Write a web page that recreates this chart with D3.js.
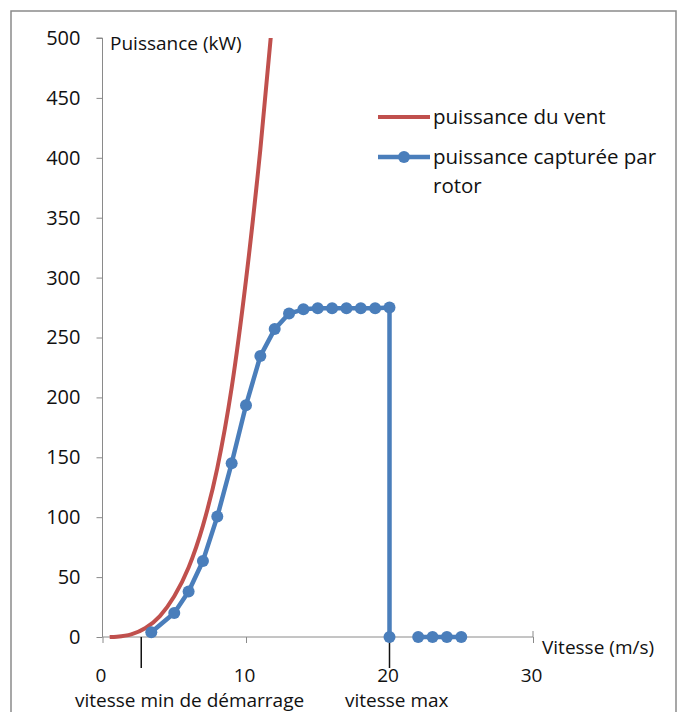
<!DOCTYPE html>
<html><head><meta charset="utf-8">
<script src="https://cdn.jsdelivr.net/npm/d3@7/dist/d3.min.js"></script>
<style>body{margin:0;background:#fff}svg{display:block}text{font-family:"Open Sans",sans-serif;fill:#111}</style>
</head><body>
<script>
// Data
const windSpeed = [0.5, 1, 2, 3, 4, 5, 6, 7, 8, 9, 10, 11, 12];
const windPower = [0, 0.3, 2.2, 7.5, 17.5, 34, 58, 93, 141, 208, 298, 407, 536];
const rotorSpeed = [3.4, 5, 6, 7, 8, 9, 10, 11, 12, 13, 14, 15, 16, 17, 18, 19, 20, 20, null, 22, 23, 24, 25];
const rotorPower = [4, 20, 38, 63.5, 100.5, 145, 193.5, 234.5, 257, 270, 273.5, 274.5, 274.5, 274.5, 274.5, 274.5, 275, 0, null, 0, 0, 0, 0];
const yTicks = [0, 50, 100, 150, 200, 250, 300, 350, 400, 450, 500];
const xTicks = [0, 10, 20, 30];
const markers = [{v: 2.7, label: "vitesse min de démarrage"}, {v: 20, label: "vitesse max"}];
const seriesNames = ["puissance du vent", "puissance capturée par", "rotor"];
const yTitle = "Puissance (kW)";
const xTitle = "Vitesse (m/s)";

const W = 678, H = 712;
const svg = d3.select("body").append("svg").attr("width", W).attr("height", H);
const x = d3.scaleLinear().domain([0, 30]).range([102.5, 533]);
const y = d3.scaleLinear().domain([0, 500]).range([637, 38]);
const red = "#C0504D", blue = "#4A7EBB";

svg.append("rect").attr("x", 11).attr("y", 11).attr("width", 665).attr("height", 740)
  .attr("fill", "none").attr("stroke", "#8a8a8a").attr("stroke-width", 1.5);

svg.append("clipPath").attr("id", "clip").append("rect")
  .attr("x", 0).attr("y", y(500)).attr("width", W).attr("height", H);

// y axis
const yAxis = d3.axisLeft(y).tickValues(yTicks).tickSize(6).tickPadding(16).tickFormat(d3.format("d"));
const gy = svg.append("g").attr("transform", `translate(${x(0)},0)`).call(yAxis);
gy.select(".domain").attr("stroke", "#8a8a8a").attr("d", `M-6,${y(500)}H0V${y(0)}`);
gy.selectAll(".tick line").attr("stroke", "#8a8a8a");
gy.selectAll(".tick text").attr("font-size", 20).attr("font-family", "Open Sans").attr("fill", "#111");

// x axis
const xAxis = d3.axisBottom(x).tickValues(xTicks).tickSize(6).tickPadding(26).tickFormat(d3.format("d"));
const gx = svg.append("g").attr("transform", `translate(0,${y(0)})`).call(xAxis);
gx.select(".domain").attr("stroke", "#8a8a8a").attr("d", `M${x(0)},0H${x(30)}V-6`);
gx.selectAll(".tick line").attr("stroke", "#8a8a8a");
gx.selectAll(".tick text").attr("font-size", 19).attr("font-family", "Open Sans").attr("fill", "#111")
  .attr("dx", -2);

svg.append("text").attr("x", 110).attr("y", 50).attr("font-size", 19).text(yTitle);
svg.append("text").attr("x", 542).attr("y", 654).attr("font-size", 19).text(xTitle);

// annotation markers
markers.forEach(m => {
  svg.append("line").attr("x1", x(m.v)).attr("x2", x(m.v)).attr("y1", y(0)).attr("y2", y(0) + 31)
    .attr("stroke", "#111").attr("stroke-width", 1.5);
});
svg.append("text").attr("x", 75).attr("y", 707).attr("font-size", 19).text(markers[0].label);
svg.append("text").attr("x", 345).attr("y", 707).attr("font-size", 19).text(markers[1].label);

// wind power curve
const redData = windSpeed.map((v, i) => [v, windPower[i]]);
svg.append("path").datum(redData).attr("clip-path", "url(#clip)")
  .attr("fill", "none").attr("stroke", red).attr("stroke-width", 4)
  .attr("d", d3.line().x(d => x(d[0])).y(d => y(d[1])).curve(d3.curveMonotoneX));

// rotor captured power
const blueData = rotorSpeed.map((v, i) => [v, rotorPower[i]]);
svg.append("path").datum(blueData)
  .attr("fill", "none").attr("stroke", blue).attr("stroke-width", 4.5).attr("stroke-linejoin", "round")
  .attr("d", d3.line().defined(d => d[0] !== null && d[1] !== null).x(d => x(d[0])).y(d => y(d[1])));
svg.selectAll("circle.pt").data(blueData.filter(d => d[0] !== null)).join("circle")
  .attr("class", "pt").attr("cx", d => x(d[0])).attr("cy", d => y(d[1])).attr("r", 6).attr("fill", blue);

// legend
const lg = svg.append("g");
lg.append("line").attr("x1", 378).attr("x2", 430).attr("y1", 117).attr("y2", 117).attr("stroke", red).attr("stroke-width", 4);
lg.append("text").attr("x", 433).attr("y", 124).attr("font-size", 20.5).text(seriesNames[0]);
lg.append("line").attr("x1", 378).attr("x2", 430).attr("y1", 157).attr("y2", 157).attr("stroke", blue).attr("stroke-width", 4.5);
lg.append("circle").attr("cx", 404).attr("cy", 157).attr("r", 6).attr("fill", blue);
lg.append("text").attr("x", 433).attr("y", 164).attr("font-size", 20.5).text(seriesNames[1]);
lg.append("text").attr("x", 433).attr("y", 193).attr("font-size", 20.5).text(seriesNames[2]);
</script>
</body></html>
